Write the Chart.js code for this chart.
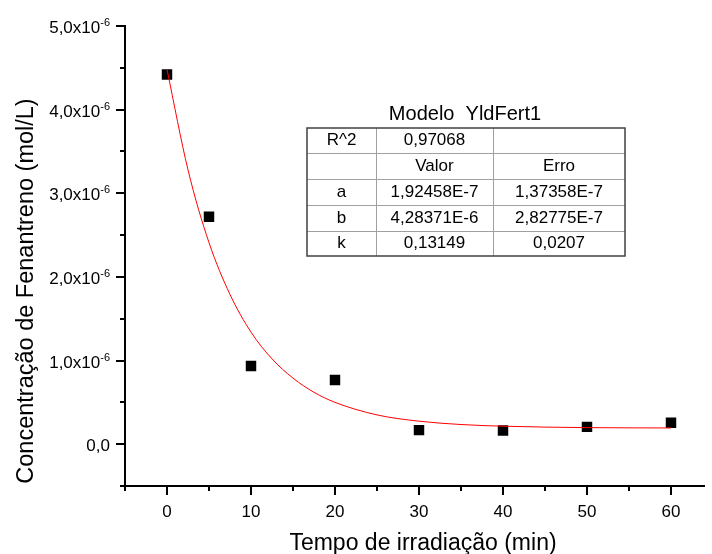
<!DOCTYPE html>
<html>
<head>
<meta charset="utf-8">
<script src="https://cdn.jsdelivr.net/npm/chart.js@4/dist/chart.umd.min.js"></script>
<style>
  body { margin: 0; background: #fff; }
  #wrap { width: 712px; height: 554px; }
</style>
</head>
<body>
<div id="wrap"><canvas id="chart" width="712" height="554"></canvas></div>
<script>
// measured points (mol/L)
const timeMin = [0, 5, 10, 20, 30, 40, 50, 60]
const concentration = [4.42e-6, 2.72e-6, 0.935e-6, 0.767e-6, 0.168e-6, 0.164e-6, 0.207e-6, 0.255e-6]

// fitted curve
const fitTime = [0, 2.5, 5, 7.5, 10, 12.5, 15, 17.5, 20, 25, 30, 35, 40, 50, 60]
const fitConc = [4.48e-6, 3.28e-6, 2.41e-6, 1.79e-6, 1.34e-6, 1.02e-6, 0.79e-6, 0.62e-6, 0.50e-6,
  0.35e-6, 0.275e-6, 0.235e-6, 0.215e-6, 0.198e-6, 0.194e-6]

// axis ticks
const xMajorTicks = [0, 10, 20, 30, 40, 50, 60]
const xMinorTicks = [-5, 5, 15, 25, 35, 45, 55]
const yMajorTicks = [0, 1e-6, 2e-6, 3e-6, 4e-6, 5e-6]
const yMinorTicks = [-0.5e-6, 0.5e-6, 1.5e-6, 2.5e-6, 3.5e-6, 4.5e-6]
const yTickLabels = ['0,0', '1,0x10', '2,0x10', '3,0x10', '4,0x10', '5,0x10']
const yTickExponents = ['', '-6', '-6', '-6', '-6', '-6']

// fit parameters box
const tableTitle = 'Modelo  YldFert1'
const tableRows = [
  ['R^2', '0,97068', ''],
  ['', 'Valor', 'Erro'],
  ['a', '1,92458E-7', '1,37358E-7'],
  ['b', '4,28371E-6', '2,82775E-7'],
  ['k', '0,13149', '0,0207']
]

const FONT = '"Liberation Sans", Arial, sans-serif'

const decor = {
  id: 'decor',
  afterDraw(chart) {
    const { ctx, chartArea } = chart
    const x = chart.scales.x
    const y = chart.scales.y
    ctx.save()
    ctx.strokeStyle = '#000'
    ctx.fillStyle = '#000'
    ctx.lineWidth = 2

    const tick = (x1, y1, x2, y2) => {
      ctx.beginPath(); ctx.moveTo(x1, y1); ctx.lineTo(x2, y2); ctx.stroke()
    }

    // x ticks + labels
    xMinorTicks.forEach(v => { const px = Math.round(x.getPixelForValue(v)); tick(px, chartArea.bottom, px, chartArea.bottom + 5) })
    ctx.font = '17px ' + FONT
    ctx.textAlign = 'center'
    ctx.textBaseline = 'top'
    xMajorTicks.forEach(v => {
      const px = Math.round(x.getPixelForValue(v))
      tick(px, chartArea.bottom, px, chartArea.bottom + 9)
      ctx.fillText(String(v), px, chartArea.bottom + 18)
    })

    // y ticks + labels
    yMinorTicks.forEach(v => { const py = Math.round(y.getPixelForValue(v)); tick(chartArea.left, py, chartArea.left - 5, py) })
    yMajorTicks.forEach((v, i) => {
      const py = Math.round(y.getPixelForValue(v))
      tick(chartArea.left, py, chartArea.left - 9, py)
      const right = 110
      let supW = 0
      if (yTickExponents[i]) {
        ctx.font = '11px ' + FONT
        supW = ctx.measureText(yTickExponents[i]).width
        ctx.textAlign = 'right'
        ctx.textBaseline = 'alphabetic'
        ctx.fillText(yTickExponents[i], right, py)
      }
      ctx.font = '17px ' + FONT
      ctx.textAlign = 'right'
      ctx.textBaseline = 'middle'
      ctx.fillText(yTickLabels[i], right - supW, py + 2)
    })

    // axis titles
    ctx.font = '23px ' + FONT
    ctx.textAlign = 'center'
    ctx.textBaseline = 'alphabetic'
    ctx.fillText('Tempo de irradiação (min)', 423, 550)
    ctx.save()
    ctx.translate(33, 291)
    ctx.rotate(-Math.PI / 2)
    ctx.font = '23.5px ' + FONT
    ctx.fillText('Concentração de Fenantreno (mol/L)', 0, 0)
    ctx.restore()

    // fit table
    const cols = [307, 376, 493, 625]
    const rows = [128, 153, 179, 205, 231, 256]
    ctx.font = '20px ' + FONT
    ctx.fillText(tableTitle, 465, 120)
    ctx.lineWidth = 1
    ctx.strokeStyle = '#a0a0a0'
    for (let r = 1; r < rows.length - 1; r++) tick(cols[0], rows[r] + 0.5, cols[3], rows[r] + 0.5)
    for (let c = 1; c < cols.length - 1; c++) tick(cols[c] + 0.5, rows[0], cols[c] + 0.5, rows[rows.length - 1])
    ctx.strokeStyle = '#404040'
    ctx.lineWidth = 1.5
    ctx.strokeRect(cols[0], rows[0], cols[3] - cols[0], rows[rows.length - 1] - rows[0])
    ctx.font = '17px ' + FONT
    ctx.textBaseline = 'middle'
    tableRows.forEach((row, r) => {
      row.forEach((txt, c) => {
        if (!txt) return
        ctx.fillText(txt, (cols[c] + cols[c + 1]) / 2, (rows[r] + rows[r + 1]) / 2)
      })
    })
    ctx.restore()
  }
}

new Chart(document.getElementById('chart'), {
  type: 'scatter',
  data: {
    datasets: [
      {
        data: fitTime.map((t, i) => ({ x: t, y: fitConc[i] })),
        showLine: true,
        borderColor: '#ff0000',
        borderWidth: 1,
        pointRadius: 0,
        cubicInterpolationMode: 'monotone',
        order: 0
      },
      {
        data: timeMin.map((t, i) => ({ x: t, y: concentration[i] })),
        pointStyle: 'rect',
        pointRadius: 7.4,
        pointBorderWidth: 0,
        backgroundColor: '#000',
        borderColor: '#000',
        order: 1
      }
    ]
  },
  options: {
    responsive: false,
    animation: false,
    layout: { padding: { top: 26, right: 0, left: 0, bottom: 0 } },
    plugins: { legend: { display: false }, tooltip: { enabled: false } },
    scales: {
      x: {
        type: 'linear',
        min: -5,
        max: 64,
        grid: { display: false },
        border: { display: true, color: '#000', width: 2 },
        ticks: { display: false },
        afterFit: (s) => { s.height = 68 }
      },
      y: {
        min: -0.5e-6,
        max: 5e-6,
        grid: { display: false },
        border: { display: true, color: '#000', width: 2 },
        ticks: { display: false },
        afterFit: (s) => { s.width = 125 }
      }
    }
  },
  plugins: [decor]
})
</script>
</body>
</html>
